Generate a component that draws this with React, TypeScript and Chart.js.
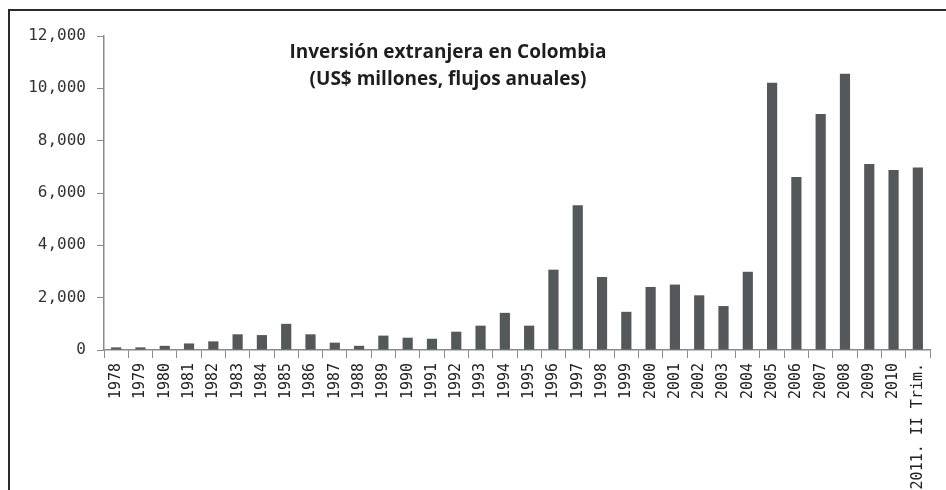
import React, { useEffect, useRef } from "react";
import { Chart, registerables } from "chart.js";

Chart.register(...registerables);

const categories: string[] = [
  "1978", "1979", "1980", "1981", "1982", "1983", "1984", "1985", "1986", "1987",
  "1988", "1989", "1990", "1991", "1992", "1993", "1994", "1995", "1996", "1997",
  "1998", "1999", "2000", "2001", "2002", "2003", "2004", "2005", "2006", "2007",
  "2008", "2009", "2010", "2011. II Trim.",
];

const inversion: number[] = [
  100, 100, 160, 250, 330, 600, 570, 1000, 600, 280,
  160, 550, 470, 430, 700, 930, 1420, 930, 3070, 5530,
  2790, 1460, 2410, 2500, 2090, 1680, 2990, 10210, 6610, 9020,
  10560, 7110, 6880, 6970,
];

const yTicks: number[] = [0, 2000, 4000, 6000, 8000, 10000, 12000];

const titleLines: string[] = [
  "Inversión extranjera en Colombia",
  "(US$ millones, flujos anuales)",
];

const decorPlugin = {
  id: "decor",
  beforeDraw(chart: any) {
    const ctx = chart.ctx;
    ctx.save();
    ctx.fillStyle = "#ffffff";
    ctx.fillRect(0, 0, chart.width, chart.height);
    ctx.strokeStyle = "#2a2a2a";
    ctx.lineWidth = 2;
    ctx.beginPath();
    ctx.moveTo(9, chart.height);
    ctx.lineTo(9, 10);
    ctx.lineTo(chart.width, 10);
    ctx.stroke();
    ctx.restore();
  },
  afterDraw(chart: any) {
    const ctx = chart.ctx;
    ctx.save();
    ctx.fillStyle = "#1e1e1e";
    ctx.font = "bold 19px 'Open Sans'";
    ctx.textAlign = "center";
    ctx.textBaseline = "middle";
    const cx = 448;
    ctx.fillText(titleLines[0], cx, 53);
    ctx.fillText(titleLines[1], cx, 80);
    ctx.restore();
  },
};

export default function App() {
  const canvasRef = useRef<HTMLCanvasElement | null>(null);

  useEffect(() => {
    if (!canvasRef.current) return;
    const chart = new Chart(canvasRef.current, {
      type: "bar",
      data: {
        labels: categories,
        datasets: [
          {
            data: inversion,
            backgroundColor: "#555859",
            borderWidth: 0,
            categoryPercentage: 1,
            barPercentage: 0.42,
          },
        ],
      },
      options: {
        animation: false,
        responsive: false,
        maintainAspectRatio: false,
        layout: { padding: { left: 0, right: 16, top: 36, bottom: 0 } },
        plugins: {
          legend: { display: false },
          title: { display: false },
          tooltip: { enabled: false },
        },
        scales: {
          x: {
            grid: {
              display: true,
              drawOnChartArea: false,
              drawTicks: true,
              tickLength: 8,
              color: "#8a8a8a",
              offset: true,
            },
            border: { display: true, color: "#8a8a8a", width: 1.5 },
            ticks: {
              autoSkip: false,
              minRotation: 90,
              maxRotation: 90,
              padding: 5,
              color: "#222",
              font: { family: "'DejaVu Sans Mono'", size: 15 },
            },
            afterFit: (s: any) => {
              s.height = 140;
            },
          },
          y: {
            min: 0,
            max: 12000,
            afterBuildTicks: (s: any) => {
              s.ticks = yTicks.map((v) => ({ value: v }));
            },
            grid: {
              display: true,
              drawOnChartArea: false,
              drawTicks: true,
              tickLength: 7,
              color: "#8a8a8a",
            },
            border: { display: true, color: "#8a8a8a", width: 1.5 },
            ticks: {
              padding: 11,
              color: "#333",
              font: { family: "'DejaVu Sans Mono'", size: 16 },
              callback: (v: any) => Number(v).toLocaleString("en-US"),
            },
            afterFit: (s: any) => {
              s.width = 104;
            },
          },
        },
      },
      plugins: [decorPlugin],
    });
    return () => chart.destroy();
  }, []);

  return (
    <div style={{ position: "fixed", left: 0, top: 0, width: 946, height: 490 }}>
      <canvas ref={canvasRef} width={946} height={490} style={{ display: "block" }} />
    </div>
  );
}
